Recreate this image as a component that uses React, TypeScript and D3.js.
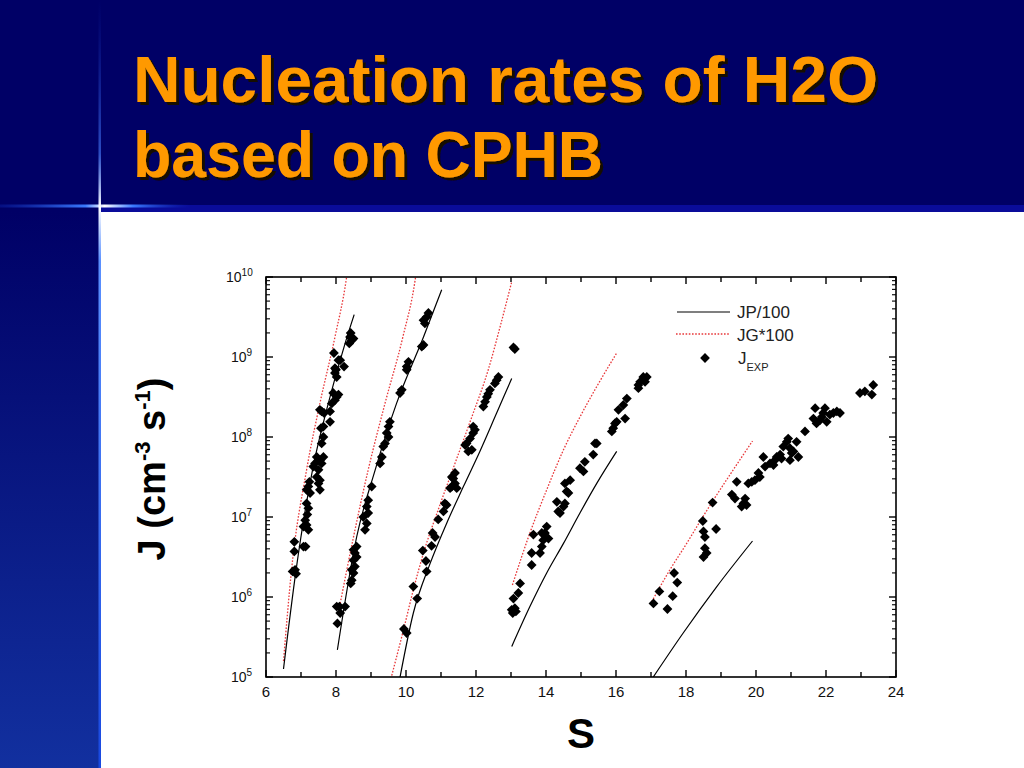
import React from "react";
import * as d3 from "d3";

// ---------- data (S, log10 J) ----------
const xTicks = [6, 8, 10, 12, 14, 16, 18, 20, 22, 24];
const xMinorTicks = [7, 9, 11, 13, 15, 17, 19, 21, 23];
const decades = [5, 6, 7, 8, 9, 10];

const titleLines = ["Nucleation rates of H2O", "based on CPHB"];

// JP/100 curves (black solid)
const jp1 = [[6.5, 5.1], [6.86, 6.34], [7.33, 7.59], [7.78, 8.42], [8.26, 9.17], [8.52, 9.53]];
const jp2 = [[8.04, 5.34], [8.59, 6.75], [9.12, 7.59], [9.73, 8.42], [10.5, 9.25], [11.02, 9.84]];
const jp3 = [[9.83, 5.0], [10.21, 5.8], [10.69, 6.42], [11.16, 6.92], [11.64, 7.38], [12.11, 7.82], [12.59, 8.3], [13.02, 8.73]];
const jp4 = [[13.02, 5.38], [13.54, 5.88], [14.02, 6.3], [14.5, 6.67], [14.97, 7.05], [15.45, 7.42], [16.02, 7.82]];
const jp5 = [[17.05, 4.99], [17.92, 5.55], [18.88, 6.13], [19.9, 6.7]];

// JG*100 curves (red dotted)
const jg1 = [[6.5, 5.2], [6.73, 6.34], [7.16, 7.59], [7.54, 8.42], [7.97, 9.25], [8.29, 9.96], [8.31, 10.02]];
const jg2 = [[8.12, 5.92], [8.5, 6.75], [8.92, 7.59], [9.4, 8.42], [9.91, 9.25], [10.26, 9.96], [10.28, 10.02]];
const jg3 = [[9.57, 4.98], [9.94, 5.61], [10.21, 6.09], [10.5, 6.55], [10.92, 7.09], [11.4, 7.67], [11.88, 8.25], [12.35, 8.84], [12.69, 9.38], [13.02, 9.94]];
const jg4 = [[13.04, 6.15], [13.54, 6.8], [14.02, 7.34], [14.5, 7.84], [14.97, 8.25], [15.45, 8.63], [16.02, 9.05]];
const jg5 = [[17.02, 5.94], [17.54, 6.34], [18.02, 6.67], [18.45, 6.98], [18.78, 7.21], [19.35, 7.59], [19.9, 7.95]];

// J_EXP points
const exp1 = [
  [6.81, 6.69], [6.81, 6.57], [6.76, 6.32], [6.86, 6.29], [6.83, 6.34], [7.13, 6.63], [7.07, 6.63],
  [7.07, 6.88], [7.16, 6.9], [7.21, 6.84], [7.12, 6.96], [7.18, 7.03], [7.21, 7.11], [7.16, 7.17],
  [7.21, 7.38], [7.24, 7.44], [7.16, 7.34], [7.26, 7.3], [7.4, 7.67], [7.45, 7.75], [7.5, 7.59],
  [7.54, 7.71], [7.59, 7.67], [7.45, 7.5], [7.54, 7.46], [7.5, 7.42], [7.54, 7.34], [7.64, 7.75],
  [7.35, 7.63], [7.59, 7.92], [7.64, 8.0], [7.57, 8.11], [7.64, 8.13], [7.83, 8.19], [7.59, 8.32],
  [7.54, 8.34], [7.66, 8.3], [7.83, 8.32], [7.88, 8.42], [7.97, 8.46], [8.02, 8.5], [7.92, 8.55],
  [8.07, 8.53], [7.97, 8.8], [8.0, 8.84], [8.02, 8.75], [8.12, 8.96], [7.97, 8.86], [8.07, 8.96],
  [8.23, 8.88], [7.94, 9.05], [8.4, 9.25], [8.45, 9.21], [8.38, 9.17], [8.5, 9.23], [8.42, 9.3],
];
const exp2 = [
  [8.04, 5.67], [8.12, 5.8], [8.02, 5.88], [8.1, 5.88], [8.26, 5.88], [8.5, 6.59], [8.54, 6.55],
  [8.59, 6.63], [8.5, 6.46], [8.45, 6.34], [8.5, 6.3], [8.45, 6.21], [8.42, 6.17], [8.59, 6.5],
  [8.54, 6.38], [8.83, 6.84], [8.88, 6.92], [8.78, 7.0], [8.92, 7.05], [8.88, 7.13], [8.92, 7.21],
  [9.02, 7.38], [9.26, 7.67], [9.31, 7.75], [9.35, 7.88], [9.4, 7.92], [9.45, 8.05], [9.5, 8.13],
  [9.54, 8.19], [9.5, 8.0], [9.88, 8.59], [9.83, 8.55], [10.02, 8.88], [10.07, 8.94], [10.02, 8.84],
  [10.45, 9.13], [10.5, 9.15], [10.54, 9.42], [10.5, 9.46], [10.59, 9.5], [10.64, 9.55],
];
const exp3 = [
  [9.94, 5.6], [10.02, 5.55], [10.21, 6.13], [10.32, 5.98], [10.48, 6.58], [10.73, 6.64], [10.57, 6.45],
  [10.59, 6.32], [10.76, 6.8], [10.83, 6.75], [10.92, 6.97], [11.07, 7.07], [11.11, 7.17], [11.16, 7.15],
  [11.31, 7.38], [11.4, 7.42], [11.26, 7.36], [11.35, 7.48], [11.4, 7.55], [11.31, 7.5], [11.45, 7.36],
  [11.69, 7.9], [11.73, 7.92], [11.78, 7.82], [11.88, 7.84], [11.83, 7.98], [11.92, 8.05], [11.97, 8.09],
  [11.92, 8.13], [12.21, 8.38], [12.26, 8.44], [12.31, 8.5], [12.35, 8.54], [12.4, 8.59], [12.54, 8.67],
  [12.64, 8.75], [12.59, 8.71], [13.07, 9.12], [13.11, 9.1],
];
const exp4 = [
  [13.07, 5.98], [13.11, 5.86], [13.05, 5.8], [13.14, 5.82], [13.02, 5.84], [13.21, 6.05], [13.26, 6.17],
  [13.59, 6.4], [13.59, 6.55], [13.64, 6.78], [13.83, 6.55], [13.88, 6.63], [13.92, 6.71], [13.97, 6.8],
  [14.02, 6.88], [14.07, 6.73], [13.88, 6.8], [14.31, 7.19], [14.4, 7.05], [14.35, 7.07], [14.5, 7.13],
  [14.54, 7.17], [14.59, 7.32], [14.64, 7.3], [14.69, 7.46], [14.54, 7.42], [14.97, 7.61], [15.07, 7.57],
  [15.11, 7.69], [15.35, 7.78], [15.4, 7.92], [15.45, 7.92], [15.88, 8.07], [15.92, 8.11], [15.97, 8.17],
  [16.02, 8.19], [16.07, 8.34], [16.26, 8.23], [16.21, 8.4], [16.31, 8.48], [16.64, 8.61], [16.69, 8.69],
  [16.78, 8.75], [16.88, 8.75], [16.83, 8.69], [16.64, 8.65],
];
const exp5 = [
  [17.07, 5.92], [17.24, 6.07], [17.47, 5.85], [17.62, 6.01], [17.66, 6.3], [17.75, 6.18], [18.48, 6.95],
  [18.5, 6.82], [18.54, 6.75], [18.5, 6.5], [18.59, 6.55], [18.54, 6.61], [18.76, 7.18], [18.86, 6.85],
  [19.31, 7.28], [19.4, 7.23], [19.45, 7.44], [19.59, 7.13], [19.64, 7.17], [19.69, 7.23], [19.73, 7.15],
  [19.78, 7.42], [19.88, 7.44], [19.97, 7.46], [20.07, 7.55], [20.11, 7.5], [20.21, 7.75], [20.26, 7.63],
  [20.4, 7.67], [20.5, 7.65], [20.54, 7.71], [20.59, 7.75], [20.69, 7.78], [20.73, 7.73], [20.78, 7.88],
  [20.88, 7.94], [20.92, 7.98], [20.97, 7.86], [21.02, 7.8], [20.97, 7.71], [21.07, 7.82], [21.16, 7.94],
  [21.21, 7.75], [21.4, 8.07], [21.64, 8.23], [21.69, 8.36], [21.73, 8.17], [21.83, 8.21], [21.88, 8.25],
  [21.92, 8.3], [21.97, 8.36], [22.02, 8.19], [22.11, 8.28], [22.21, 8.3], [22.31, 8.32], [22.4, 8.3],
  [22.97, 8.55], [23.11, 8.57], [23.31, 8.53], [23.35, 8.65],
];

const legendItems = ["JP/100", "JG*100", "J"];

// ---------- layout ----------
const W = 1024;
const H = 768;
const PL = 266, PR = 896, PT = 277, PB = 677;
const FONT = "'Liberation Sans', Arial, Helvetica, sans-serif";

export default function App() {
  const x = d3.scaleLinear().domain([6, 24]).range([PL, PR]);
  const y = d3.scaleLog().domain([1e5, 1e10]).range([PB, PT]);
  const line = d3
    .line<number[]>()
    .x((d) => x(d[0]))
    .y((d) => y(Math.pow(10, d[1])))
    .curve(d3.curveMonotoneX);
  const diamond = d3.symbol().type(d3.symbolSquare).size(48)() as string;

  const minorY: number[] = [];
  decades.slice(0, -1).forEach((e) => {
    for (let k = 2; k <= 9; k++) minorY.push(k * Math.pow(10, e));
  });

  const jpCurves = [jp1, jp2, jp3, jp4, jp5];
  const jgCurves = [jg1, jg2, jg3, jg4, jg5];
  const expAll = [exp1, exp2, exp3, exp4, exp5];

  return (
    <div style={{ position: "fixed", left: 0, top: 0, width: W, height: H }}>
      <svg width={W} height={H} style={{ display: "block" }}>
        <defs>
          <linearGradient id="leftStrip" x1="0" y1="0" x2="0" y2="1">
            <stop offset="0" stopColor="#000066" />
            <stop offset="1" stopColor="#12309f" />
          </linearGradient>
          <linearGradient id="hGlow" x1="0" y1="0" x2="1" y2="0">
            <stop offset="0" stopColor="#1030c0" stopOpacity="0.3" />
            <stop offset="0.45" stopColor="#3a7aff" />
            <stop offset="0.55" stopColor="#ffffff" />
            <stop offset="0.7" stopColor="#3a7aff" />
            <stop offset="1" stopColor="#1030c0" stopOpacity="0" />
          </linearGradient>
          <linearGradient id="vGlow" x1="0" y1="0" x2="0" y2="1">
            <stop offset="0" stopColor="#1030c0" stopOpacity="0" />
            <stop offset="0.2" stopColor="#4a80ff" stopOpacity="0.6" />
            <stop offset="0.27" stopColor="#ffffff" />
            <stop offset="0.34" stopColor="#5a90ff" />
            <stop offset="1" stopColor="#1848e0" />
          </linearGradient>
          <clipPath id="plotClip">
            <rect x={PL} y={PT} width={PR - PL} height={PB - PT} />
          </clipPath>
          <filter id="shadow" x="-5%" y="-20%" width="110%" height="140%">
            <feDropShadow dx="3" dy="3" stdDeviation="0.6" floodColor="#140e00" floodOpacity="1" />
          </filter>
        </defs>

        {/* background */}
        <rect x={0} y={0} width={W} height={H} fill="#000066" />
        <rect x={0} y={212} width={100} height={H - 212} fill="url(#leftStrip)" />
        <rect x={100} y={205} width={W - 100} height={7} fill="#0a0c9a" />
        <rect x={101} y={212} width={W - 101} height={H - 212} fill="#ffffff" />
        <rect x={0} y={204.5} width={190} height={3} fill="url(#hGlow)" />
        <rect x={98.5} y={0} width={2.5} height={H} fill="url(#vGlow)" />

        {/* title */}
        {titleLines.map((t, i) => (
          <text
            key={t}
            x={133}
            y={102 + i * 75}
            fontFamily={FONT}
            fontWeight="bold"
            fontSize={64}
            fill="#ff9900"
            filter="url(#shadow)"
            textLength={i === 0 ? 745 : 470}
            lengthAdjust="spacingAndGlyphs"
          >
            {t}
          </text>
        ))}

        {/* curves */}
        <g clipPath="url(#plotClip)" fill="none">
          {jgCurves.map((c, i) => (
            <path key={"g" + i} d={line(c) as string} stroke="#e8383a" strokeWidth={1.3} strokeDasharray="1.6,1.6" />
          ))}
          {jpCurves.map((c, i) => (
            <path key={"p" + i} d={line(c) as string} stroke="#000" strokeWidth={1.2} />
          ))}
        </g>

        {/* experimental points */}
        <g fill="#000">
          {expAll.map((arr, k) =>
            arr.map((d, i) => (
              <path
                key={k + "-" + i}
                d={diamond}
                transform={`translate(${x(d[0])},${y(Math.pow(10, d[1]))}) rotate(45)`}
              />
            ))
          )}
        </g>

        {/* frame */}
        <rect x={PL} y={PT} width={PR - PL} height={PB - PT} fill="none" stroke="#000" strokeWidth={1.6} />

        {/* ticks */}
        <g stroke="#000" strokeWidth={1.4}>
          {xTicks.map((t) => (
            <g key={"xt" + t}>
              <line x1={x(t)} x2={x(t)} y1={PB} y2={PB - 7} />
              <line x1={x(t)} x2={x(t)} y1={PT} y2={PT + 7} />
            </g>
          ))}
          {xMinorTicks.map((t) => (
            <g key={"xm" + t}>
              <line x1={x(t)} x2={x(t)} y1={PB} y2={PB - 5} />
              <line x1={x(t)} x2={x(t)} y1={PT} y2={PT + 5} />
            </g>
          ))}
          {decades.map((e) => (
            <g key={"yt" + e}>
              <line x1={PL} x2={PL + 7} y1={y(Math.pow(10, e))} y2={y(Math.pow(10, e))} />
              <line x1={PR} x2={PR - 7} y1={y(Math.pow(10, e))} y2={y(Math.pow(10, e))} />
            </g>
          ))}
          {minorY.map((v) => (
            <g key={"ym" + v}>
              <line x1={PL} x2={PL + 4} y1={y(v)} y2={y(v)} strokeWidth={1.1} />
              <line x1={PR} x2={PR - 4} y1={y(v)} y2={y(v)} strokeWidth={1.1} />
            </g>
          ))}
        </g>

        {/* x tick labels */}
        <g fontFamily={FONT} fontSize={15} fill="#111" textAnchor="middle">
          {xTicks.map((t) => (
            <text key={"xl" + t} x={x(t)} y={697}>
              {t}
            </text>
          ))}
        </g>

        {/* y tick labels */}
        <g fontFamily={FONT} fontSize={14} fill="#111">
          {decades.map((e) => (
            <text key={"yl" + e} x={e >= 10 ? 226 : 231} y={y(Math.pow(10, e)) + 5}>
              10
              <tspan dy={-6} fontSize={10}>
                {e}
              </tspan>
            </text>
          ))}
        </g>

        {/* axis titles */}
        <text x={581} y={748} textAnchor="middle" fontFamily={FONT} fontWeight="bold" fontSize={42} fill="#000">
          S
        </text>
        <text
          transform="translate(165,469) rotate(-90)"
          textAnchor="middle"
          fontFamily={FONT}
          fontWeight="bold"
          fontSize={38}
          fill="#000"
        >
          J (cm
          <tspan dy={-15} fontSize={22}>-3</tspan>
          <tspan dy={15}> s</tspan>
          <tspan dy={-15} fontSize={22}>-1</tspan>
          <tspan dy={15}>)</tspan>
        </text>

        {/* legend */}
        <g fontFamily={FONT} fontSize={17} fill="#222">
          <line x1={677} x2={730} y1={312} y2={312} stroke="#000" strokeWidth={1.2} />
          <text x={737} y={318}>{legendItems[0]}</text>
          <line x1={676} x2={729} y1={334} y2={334} stroke="#e8383a" strokeWidth={1.3} strokeDasharray="1.6,1.6" />
          <text x={737} y={341}>{legendItems[1]}</text>
          <path d={diamond} transform="translate(705,358) rotate(45)" fill="#000" />
          <text x={738} y={364}>
            {legendItems[2]}
            <tspan dy={7} fontSize={11}>EXP</tspan>
          </text>
        </g>
      </svg>
    </div>
  );
}
